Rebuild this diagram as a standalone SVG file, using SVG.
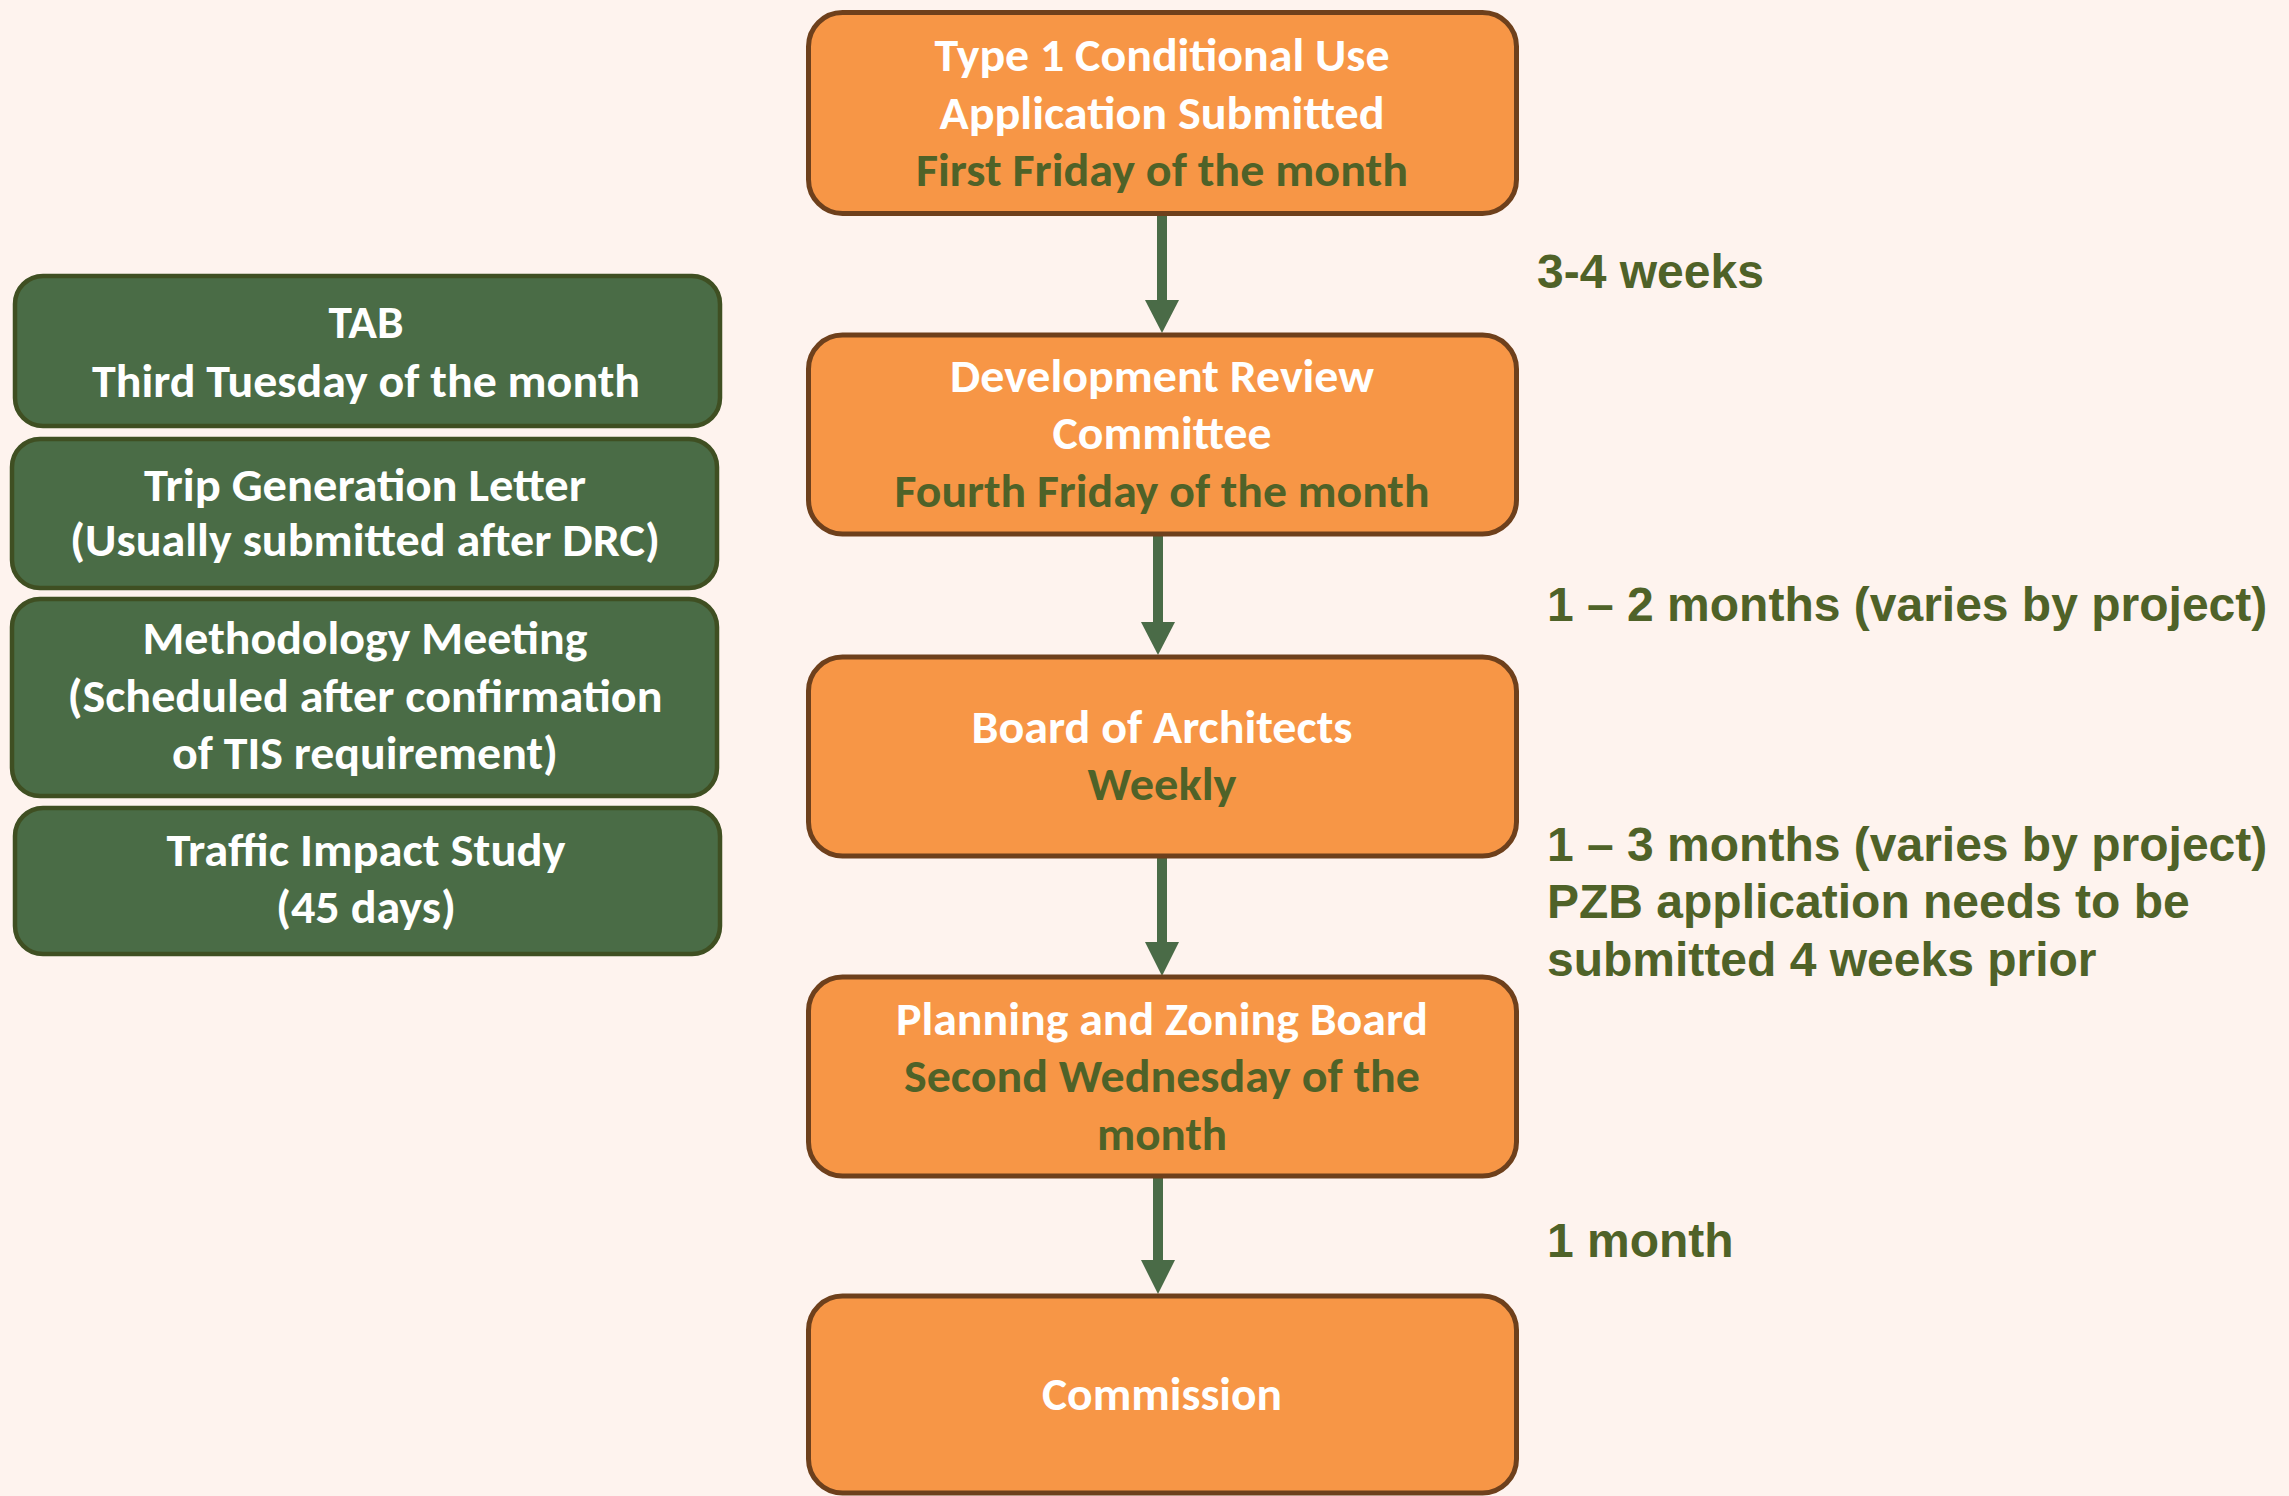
<svg xmlns="http://www.w3.org/2000/svg" width="2289" height="1496" viewBox="0 0 2289 1496">
<defs>
<style>
.ob{fill:#F79646;stroke:#6E401C;stroke-width:5}
.gb{fill:#4A6C46;stroke:#3F4F22;stroke-width:4.5}
.t{font-family:Carlito,"Open Sans","Noto Sans",sans-serif;font-weight:700;font-size:46px;text-anchor:middle}
.w{fill:#FFFFFF}
.g{fill:#4F6228}
.lab{font-family:"Liberation Sans",Arial,sans-serif;font-weight:700;font-size:48px;fill:#4F6228}
.cn{stroke:#4A6B47;stroke-width:10;fill:none}
.ah{fill:#4A6B47}
</style>
</defs>
<rect width="2289" height="1496" fill="#FEF3EE"/>
<g id="connectors">
<line class="cn" x1="1162" y1="216" x2="1162" y2="302"/>
<polygon class="ah" points="1145,300 1179,300 1162,333"/>
<line class="cn" x1="1158" y1="536" x2="1158" y2="624"/>
<polygon class="ah" points="1141,622 1175,622 1158,655"/>
<line class="cn" x1="1162" y1="857" x2="1162" y2="944"/>
<polygon class="ah" points="1145,942 1179,942 1162,976"/>
<line class="cn" x1="1158" y1="1177" x2="1158" y2="1262"/>
<polygon class="ah" points="1141,1260 1175,1260 1158,1294"/>
</g>
<g id="n1">
<rect class="ob" x="808.5" y="12.5" width="708" height="201" rx="34"/>
<text class="t w" x="1162" y="71" textLength="455" lengthAdjust="spacingAndGlyphs">Type 1 Conditional Use</text>
<text class="t w" x="1162" y="129" textLength="445" lengthAdjust="spacingAndGlyphs">Application Submitted</text>
<text class="t g" x="1162" y="186" textLength="492" lengthAdjust="spacingAndGlyphs">First Friday of the month</text>
</g>
<g id="n2">
<rect class="ob" x="808.5" y="335" width="708" height="199" rx="34"/>
<text class="t w" x="1162" y="392" textLength="424" lengthAdjust="spacingAndGlyphs">Development Review</text>
<text class="t w" x="1162" y="449" textLength="219" lengthAdjust="spacingAndGlyphs">Committee</text>
<text class="t g" x="1162" y="507" textLength="535" lengthAdjust="spacingAndGlyphs">Fourth Friday of the month</text>
</g>
<g id="n3">
<rect class="ob" x="808.5" y="657" width="708" height="199" rx="34"/>
<text class="t w" x="1162" y="743" textLength="381" lengthAdjust="spacingAndGlyphs">Board of Architects</text>
<text class="t g" x="1162" y="800" textLength="149" lengthAdjust="spacingAndGlyphs">Weekly</text>
</g>
<g id="n4">
<rect class="ob" x="808.5" y="977" width="708" height="199" rx="34"/>
<text class="t w" x="1162" y="1035" textLength="532" lengthAdjust="spacingAndGlyphs">Planning and Zoning Board</text>
<text class="t g" x="1162" y="1092" textLength="516" lengthAdjust="spacingAndGlyphs">Second Wednesday of the</text>
<text class="t g" x="1162" y="1150" textLength="130" lengthAdjust="spacingAndGlyphs">month</text>
</g>
<g id="n5">
<rect class="ob" x="808.5" y="1296" width="708" height="197" rx="34"/>
<text class="t w" x="1162" y="1410" textLength="240" lengthAdjust="spacingAndGlyphs">Commission</text>
</g>
<g id="g1">
<rect class="gb" x="15" y="276" width="705" height="150" rx="28"/>
<text class="t w" x="366" y="338" textLength="75" lengthAdjust="spacingAndGlyphs">TAB</text>
<text class="t w" x="366" y="397" textLength="548" lengthAdjust="spacingAndGlyphs">Third Tuesday of the month</text>
</g>
<g id="g2">
<rect class="gb" x="12" y="439" width="705" height="149" rx="28"/>
<text class="t w" x="365" y="501" textLength="442" lengthAdjust="spacingAndGlyphs">Trip Generation Letter</text>
<text class="t w" x="365" y="556" textLength="590" lengthAdjust="spacingAndGlyphs">(Usually submitted after DRC)</text>
</g>
<g id="g3">
<rect class="gb" x="12" y="599" width="705" height="197" rx="28"/>
<text class="t w" x="365" y="654" textLength="445" lengthAdjust="spacingAndGlyphs">Methodology Meeting</text>
<text class="t w" x="365" y="712" textLength="595" lengthAdjust="spacingAndGlyphs">(Scheduled after confirmation</text>
<text class="t w" x="365" y="769" textLength="386" lengthAdjust="spacingAndGlyphs">of TIS requirement)</text>
</g>
<g id="g4">
<rect class="gb" x="15" y="808" width="705" height="146" rx="28"/>
<text class="t w" x="366" y="866" textLength="399" lengthAdjust="spacingAndGlyphs">Traffic Impact Study</text>
<text class="t w" x="366" y="923" textLength="180" lengthAdjust="spacingAndGlyphs">(45 days)</text>
</g>
<g id="labels">
<text class="lab" x="1537" y="288">3-4 weeks</text>
<text class="lab" x="1547" y="621">1 – 2 months (varies by project)</text>
<text class="lab" x="1547" y="861">1 – 3 months (varies by project)</text>
<text class="lab" x="1547" y="918">PZB application needs to be</text>
<text class="lab" x="1547" y="976">submitted 4 weeks prior</text>
<text class="lab" x="1547" y="1257">1 month</text>
</g>
</svg>
